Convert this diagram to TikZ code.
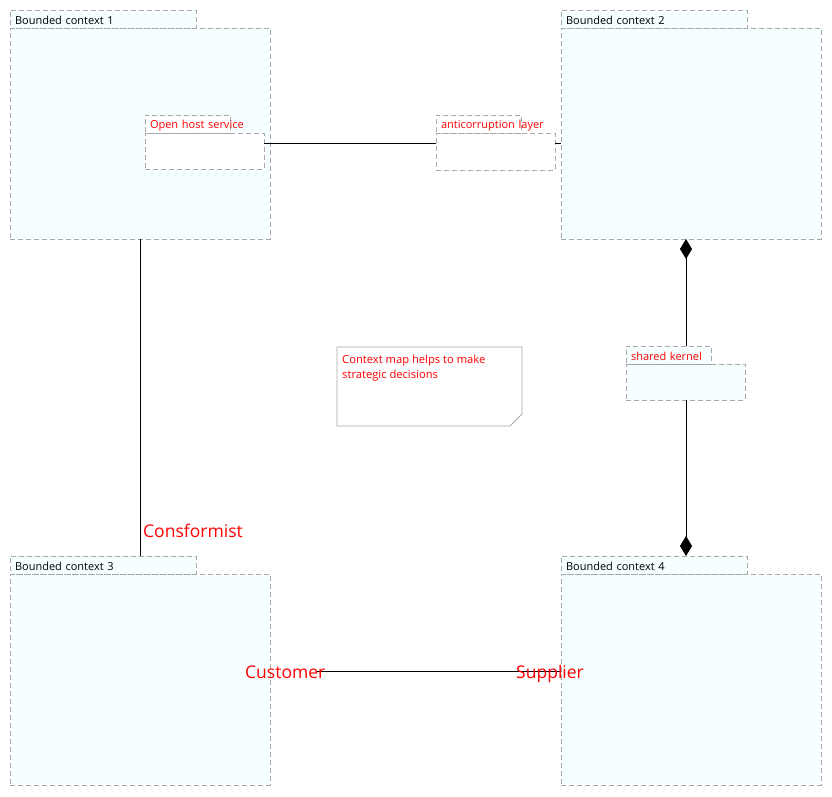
\documentclass[tikz,border=0pt]{standalone}
\usepackage{fontspec}
\setmainfont{Open Sans}
\usetikzlibrary{arrows.meta,calc}
\definecolor{pkgfill}{HTML}{F5FFFF}
\definecolor{pkgline}{HTML}{A8A8A8}
\definecolor{txtred}{HTML}{FF0000}
\tikzset{
  box/.style={draw=pkgline, dash pattern=on 5pt off 3pt, line width=0.8pt, fill=pkgfill,
    anchor=north west, inner sep=0pt, outer sep=0pt},
  whitebox/.style={box, fill=white},
  tabtext/.style={anchor=north west, inner xsep=5pt, inner ysep=0pt, outer sep=0pt,
    minimum height=20.5pt, text width=#1, align=left, font=\fontsize{11}{13}\selectfont},
  bigred/.style={text=txtred, font=\fontsize{17.5}{20}\selectfont, inner sep=0pt},
  conn/.style={draw=black, line width=0.8pt},
  diam/.style={-{Diamond[length=20pt,width=12pt]}},
}
\begin{document}
\begin{tikzpicture}[x=1pt,y=-1pt]
\useasboundingbox (0,0) rectangle (832,796);
\fill[white] (0,0) rectangle (832,796);

% ---------- packages ----------
\node[box, minimum width=260pt, minimum height=211pt] (b1) at (10,28) {};
\node[box, minimum width=186pt, minimum height=18pt] (t1) at (10,10) {};
\node[tabtext=176pt] at (t1.north west) {Bounded context 1};

\node[box, minimum width=260pt, minimum height=211pt] (b2) at (561,28) {};
\node[box, minimum width=186pt, minimum height=18pt] (t2) at (561,10) {};
\node[tabtext=176pt] at (t2.north west) {Bounded context 2};

\node[box, minimum width=260pt, minimum height=211pt] (b3) at (10,574) {};
\node[box, minimum width=186pt, minimum height=18pt] (t3) at (10,556) {};
\node[tabtext=176pt] at (t3.north west) {Bounded context 3};

\node[box, minimum width=260pt, minimum height=211pt] (b4) at (561,574) {};
\node[box, minimum width=186pt, minimum height=18pt] (t4) at (561,556) {};
\node[tabtext=176pt] at (t4.north west) {Bounded context 4};

% ---------- inner elements ----------
\node[whitebox, minimum width=119pt, minimum height=36pt] (ohsb) at (145,133) {};
\node[whitebox, minimum width=85pt, minimum height=18pt] (ohst) at (145,115) {};
\node[tabtext=110pt, text=txtred] at (ohst.north west) {Open host service};

\node[whitebox, minimum width=119pt, minimum height=37pt] (aclb) at (436,133) {};
\node[whitebox, minimum width=85pt, minimum height=18pt] (aclt) at (436,115) {};
\node[tabtext=110pt, text=txtred] at (aclt.north west) {anticorruption layer};

\node[box, minimum width=119pt, minimum height=36pt] (skb) at (626,364) {};
\node[box, minimum width=85pt, minimum height=18pt] (skt) at (626,346) {};
\node[tabtext=110pt, text=txtred] at (skt.north west) {shared kernel};

% ---------- note ----------
\draw[draw=pkgline, line width=0.8pt, fill=white]
  (337,347) -- (522,347) -- (522,414) -- (510,426) -- (337,426) -- cycle;
\node[anchor=north west, inner sep=0pt, text=txtred, align=left,
  font=\fontsize{11.2}{15}\selectfont] (note) at (342,355)
  {Context map helps to make\\strategic decisions};

% ---------- connectors ----------
\draw[conn] (ohsb.east |- 0,143) -- (aclb.west |- 0,143);
\draw[conn] (aclb.east |- 0,143) -- (b2.west |- 0,143);

\draw[conn] (b1.south -| 140,0) -- (t3.north -| 140,0);

\draw[conn, diam] (skt.north -| 686,0) -- (b2.south -| 686,0);
\draw[conn, diam] (skb.south -| 686,0) -- (t4.north -| 686,0);

\coordinate (custstart) at (317,671);
\draw[conn] (custstart) -- (b4.west |- custstart);

% ---------- role labels ----------
\node[bigred, anchor=base west] (lconf) at (143,537) {Consformist};
\node[bigred, anchor=base west] (lcust) at (245,678) {Customer};
\node[bigred, anchor=base west] (lsupp) at (516,678) {Supplier};
\end{tikzpicture}
\end{document}
